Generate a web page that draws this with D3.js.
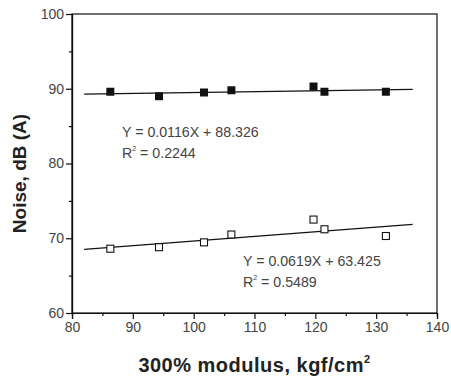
<!DOCTYPE html>
<html lang="en">
<head>
<meta charset="UTF-8">
<script src="https://cdn.jsdelivr.net/npm/d3@7"></script>
<style>
    body { margin: 0; background: white; }
    text { font-family: Arial, "Liberation Sans", sans-serif; }
</style>
</head>
<body>
<div id="chart"></div>
<script>
    const modulus = [86.3, 94.3, 101.7, 106.2, 119.7, 121.5, 131.6];
    const noiseFilled = [89.6, 89.0, 89.5, 89.8, 90.3, 89.6, 89.6];
    const noiseOpen = [68.6, 68.8, 69.45, 70.5, 72.5, 71.2, 70.3];

    // regression results as printed on the chart
    const fitFilled = { slope: 0.0116, intercept: 88.326, r2: "0.2244", range: [82, 136] };
    const fitOpen = { slope: 0.0619, intercept: 63.425, r2: "0.5489", range: [82, 136] };

    const xTicks = [80, 90, 100, 110, 120, 130, 140];
    const yTicks = [60, 70, 80, 90, 100];

    const width = 451, height = 378;
    const margin = { top: 14, right: 14, bottom: 65, left: 72 };

    const svg = d3.select("#chart").append("svg")
        .attr("width", width)
        .attr("height", height);

    const x = d3.scaleLinear().domain([80, 140]).range([margin.left, width - margin.right]);
    const y = d3.scaleLinear().domain([60, 100]).range([height - margin.bottom, margin.top]);

    // frame
    svg.append("rect")
        .attr("x", x(80)).attr("y", y(100))
        .attr("width", x(140) - x(80)).attr("height", y(60) - y(100))
        .attr("fill", "none").attr("stroke", "#111").attr("stroke-width", 1.2);

    // axes
    svg.append("g")
        .attr("transform", `translate(0,${y(60)})`)
        .call(d3.axisBottom(x).tickValues(xTicks).tickSize(6).tickPadding(3).tickFormat(d3.format("d")));
    svg.append("g")
        .attr("transform", `translate(0,${y(60)})`)
        .call(d3.axisBottom(x).tickValues(d3.range(85, 140, 10)).tickSize(3).tickFormat(""));

    svg.append("g")
        .attr("transform", `translate(${x(80)},0)`)
        .call(d3.axisLeft(y).tickValues(yTicks).tickSize(6).tickPadding(2).tickFormat(d3.format("d")));
    svg.append("g")
        .attr("transform", `translate(${x(80)},0)`)
        .call(d3.axisLeft(y).tickValues(d3.range(65, 100, 10)).tickSize(3).tickFormat(""));

    svg.selectAll(".domain").attr("stroke", "#111").attr("stroke-width", 1.2);
    svg.selectAll(".tick line").attr("stroke", "#111").attr("stroke-width", 1.2);
    svg.selectAll(".tick text")
        .attr("font-size", 14)
        .attr("fill", "#444")
        .attr("font-family", "Arial, 'Liberation Sans', sans-serif");

    // axis titles
    const xt = svg.append("text")
        .attr("x", (x(80) + x(140)) / 2).attr("y", 372)
        .attr("text-anchor", "middle")
        .attr("letter-spacing", 0.5)
        .attr("font-size", 20).attr("font-weight", "bold").attr("fill", "#222");
    xt.append("tspan").text("300% modulus, kgf/cm");
    xt.append("tspan").attr("font-size", 11).attr("dy", -9).text("2");

    svg.append("text")
        .attr("transform", `translate(26,${(y(60) + y(100)) / 2 + 10}) rotate(-90)`)
        .attr("text-anchor", "middle")
        .attr("font-size", 19).attr("font-weight", "bold").attr("fill", "#222")
        .text("Noise, dB (A)");

    // fit lines
    const line = d3.line().x(d => x(d[0])).y(d => y(d[1]));
    [fitFilled, fitOpen].forEach(f => {
        svg.append("path")
            .attr("d", line(f.range.map(v => [v, f.slope * v + f.intercept])))
            .attr("fill", "none").attr("stroke", "#111").attr("stroke-width", 1.3);
    });

    // markers
    const s = 8;
    svg.selectAll(".filled")
        .data(modulus.map((m, i) => [m, noiseFilled[i]]))
        .enter().append("rect")
        .attr("x", d => x(d[0]) - s / 2).attr("y", d => y(d[1]) - s / 2)
        .attr("width", s).attr("height", s)
        .attr("fill", "#111");

    svg.selectAll(".open")
        .data(modulus.map((m, i) => [m, noiseOpen[i]]))
        .enter().append("rect")
        .attr("x", d => x(d[0]) - s / 2 + 0.5).attr("y", d => y(d[1]) - s / 2 + 0.5)
        .attr("width", s - 1).attr("height", s - 1)
        .attr("fill", "white").attr("stroke", "#111").attr("stroke-width", 1.1);

    // equations
    function eqLabel(f, tx, ty) {
        svg.append("text")
            .attr("x", tx).attr("y", ty)
            .attr("font-size", 14.2).attr("fill", "#444")
            .text(`Y = ${f.slope}X + ${f.intercept}`);
        const r = svg.append("text")
            .attr("x", tx).attr("y", ty + 21)
            .attr("font-size", 14.2).attr("fill", "#444");
        r.append("tspan").text("R");
        r.append("tspan").attr("font-size", 7).attr("dy", -7).text("2");
        r.append("tspan").attr("dy", 7).text(" = " + f.r2);
    }
    eqLabel(fitFilled, 122, 137);
    eqLabel(fitOpen, 243, 266);
</script>
</body>
</html>
